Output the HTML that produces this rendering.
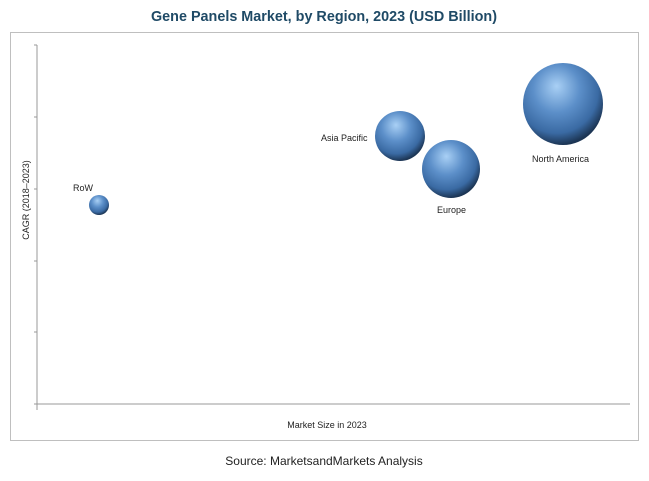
<!DOCTYPE html>
<html><head><meta charset="utf-8"><style>
body{margin:0;background:#fff;width:649px;height:476px;overflow:hidden}
</style></head><body>
<svg width="649" height="476" xmlns="http://www.w3.org/2000/svg" font-family="Liberation Sans, sans-serif">
<defs>
<radialGradient id="g" cx="0.42" cy="0.35" r="0.65" fx="0.42" fy="0.28">
<stop offset="0" stop-color="#a9d0f5"/>
<stop offset="0.45" stop-color="#5c8fc9"/>
<stop offset="0.8" stop-color="#3a6aa3"/>
<stop offset="1" stop-color="#1c3554"/>
</radialGradient>
</defs>
<text x="324" y="21" text-anchor="middle" font-size="15" font-weight="bold" fill="#1f4a66" textLength="346" lengthAdjust="spacingAndGlyphs">Gene Panels Market, by Region, 2023 (USD Billion)</text>
<rect x="10.5" y="32.5" width="628" height="408" fill="#fff" stroke="#bfbfbf"/>
<line x1="37" y1="45" x2="37" y2="410" stroke="#999"/>
<g stroke="#999"><line x1="34" y1="45" x2="37" y2="45"/><line x1="34" y1="117" x2="37" y2="117"/><line x1="34" y1="189" x2="37" y2="189"/><line x1="34" y1="261" x2="37" y2="261"/><line x1="34" y1="332" x2="37" y2="332"/></g>
<line x1="34" y1="404" x2="630" y2="404" stroke="#999"/>
<text x="29" y="200" transform="rotate(-90 29 200)" text-anchor="middle" font-size="9" fill="#222">CAGR (2018–2023)</text>
<text x="327" y="428" text-anchor="middle" font-size="9" fill="#222">Market Size in 2023</text>
<circle cx="99" cy="205" r="10" fill="url(#g)"/>
<circle cx="400" cy="136" r="25" fill="url(#g)"/>
<circle cx="451" cy="169" r="29" fill="url(#g)"/>
<ellipse cx="563" cy="104" rx="40" ry="41" fill="url(#g)"/>
<g font-size="9" fill="#222">
<text x="73" y="191">RoW</text>
<text x="321" y="141">Asia Pacific</text>
<text x="437" y="213">Europe</text>
<text x="532" y="162">North America</text>
</g>
<text x="324" y="465" text-anchor="middle" font-size="12" fill="#222">Source: MarketsandMarkets Analysis</text>
</svg>
</body></html>
